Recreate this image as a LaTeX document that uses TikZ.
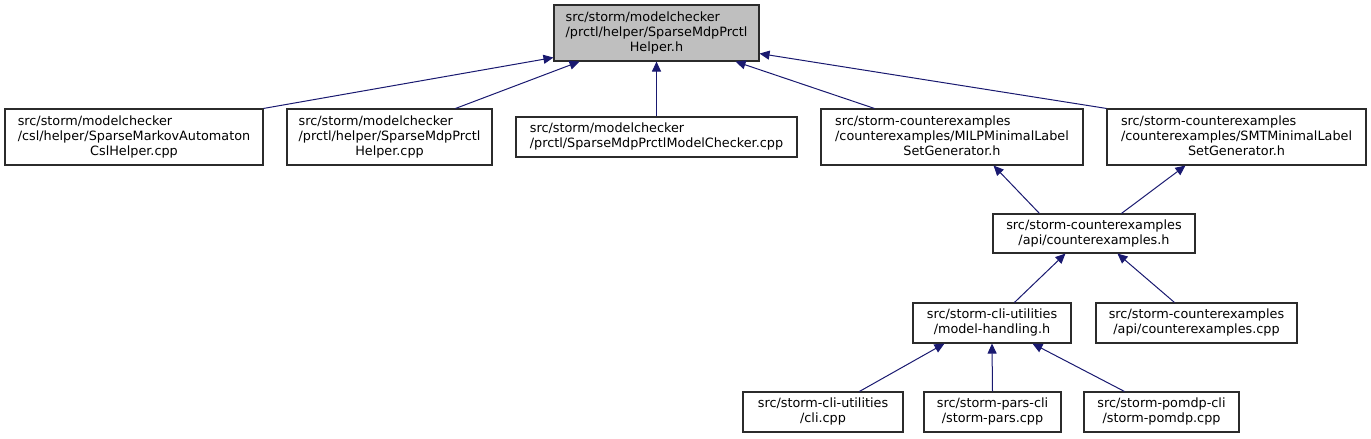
\documentclass[tikz,border=0pt]{standalone}
\usepackage{fontspec}
\setmainfont{DejaVu Sans}
\usetikzlibrary{arrows.meta}
\definecolor{edgeblue}{HTML}{191970}
\definecolor{topgrey}{HTML}{BFBFBF}
\definecolor{boxline}{HTML}{2B2B2B}
\newcommand{\dxthree}[3]{\begin{tabular}{@{}l@{}}#1\\#2\\\multicolumn{1}{@{}c@{}}{#3}\end{tabular}}
\newcommand{\dxtwoL}[2]{\begin{tabular}{@{}l@{}}#1\\#2\end{tabular}}
\newcommand{\dxtwoC}[2]{\begin{tabular}{@{}c@{}}#1\\#2\end{tabular}}
\begin{document}
\begin{tikzpicture}[x=1pt,y=-1pt,
  box/.style={draw=boxline,line width=1.1pt,rectangle,inner sep=0pt,
    font=\fontsize{12.8}{15}\selectfont,text=black},
  arr/.style={draw=edgeblue,line width=1pt,-{Triangle[length=10pt,width=9pt]}}]
\useasboundingbox (0,0) rectangle (1371,439);
\node[box,fill=topgrey,minimum width=205pt,minimum height=56pt] (T) at (656.5,33)
  {\dxthree{src/storm/modelchecker}{/prctl/helper/SparseMdpPrctl}{Helper.h}};
\node[box,minimum width=258pt,minimum height=56pt] (A) at (134,137)
  {\dxthree{src/storm/modelchecker}{/csl/helper/SparseMarkovAutomaton}{CslHelper.cpp}};
\node[box,minimum width=205pt,minimum height=56pt] (B) at (389.5,137)
  {\dxthree{src/storm/modelchecker}{/prctl/helper/SparseMdpPrctl}{Helper.cpp}};
\node[box,minimum width=281pt,minimum height=40pt] (C) at (656.5,137)
  {\dxtwoL{src/storm/modelchecker}{/prctl/SparseMdpPrctlModelChecker.cpp}};
\node[box,minimum width=262pt,minimum height=56pt] (D) at (952,137)
  {\dxthree{src/storm-counterexamples}{/counterexamples/MILPMinimalLabel}{SetGenerator.h}};
\node[box,minimum width=259pt,minimum height=56pt] (E) at (1236.5,137)
  {\dxthree{src/storm-counterexamples}{/counterexamples/SMTMinimalLabel}{SetGenerator.h}};
\node[box,minimum width=202pt,minimum height=39pt] (F) at (1094,233.5)
  {\dxtwoC{src/storm-counterexamples}{/api/counterexamples.h}};
\node[box,minimum width=158pt,minimum height=40pt] (G) at (992,323)
  {\dxtwoC{src/storm-cli-utilities}{/model-handling.h}};
\node[box,minimum width=201pt,minimum height=40pt] (H) at (1196.5,323)
  {\dxtwoC{src/storm-counterexamples}{/api/counterexamples.cpp}};
\node[box,minimum width=160pt,minimum height=40pt] (I) at (823,412)
  {\dxtwoC{src/storm-cli-utilities}{/cli.cpp}};
\node[box,minimum width=137pt,minimum height=40pt] (J) at (992.5,412)
  {\dxtwoC{src/storm-pars-cli}{/storm-pars.cpp}};
\node[box,minimum width=155pt,minimum height=40pt] (K) at (1161.5,412)
  {\dxtwoC{src/storm-pomdp-cli}{/storm-pomdp.cpp}};
\draw[arr] (A.north east) -- ([yshift=4pt]T.south west);
\draw[arr] ([xshift=-37pt]B.north east) -- ([xshift=26pt]T.south west);
\draw[arr] (C.north) -- (T.south);
\draw[arr] ([xshift=54pt]D.north west) -- ([xshift=-24pt]T.south east);
\draw[arr] (E.north west) -- ([yshift=8pt]T.south east);
\draw[arr] ([xshift=47pt]F.north west) -- ([xshift=-90pt]D.south east);
\draw[arr] ([xshift=129pt]F.north west) -- ([xshift=79pt]E.south west);
\draw[arr] ([xshift=102pt]G.north west) -- ([xshift=73pt]F.south west);
\draw[arr] ([xshift=79pt]H.north west) -- ([xshift=125pt]F.south west);
\draw[arr] ([xshift=117pt]I.north west) -- ([xshift=32pt]G.south west);
\draw[arr] (J.north) -- (G.south);
\draw[arr] ([xshift=41pt]K.north west) -- ([xshift=120pt]G.south west);
\end{tikzpicture}
\end{document}
